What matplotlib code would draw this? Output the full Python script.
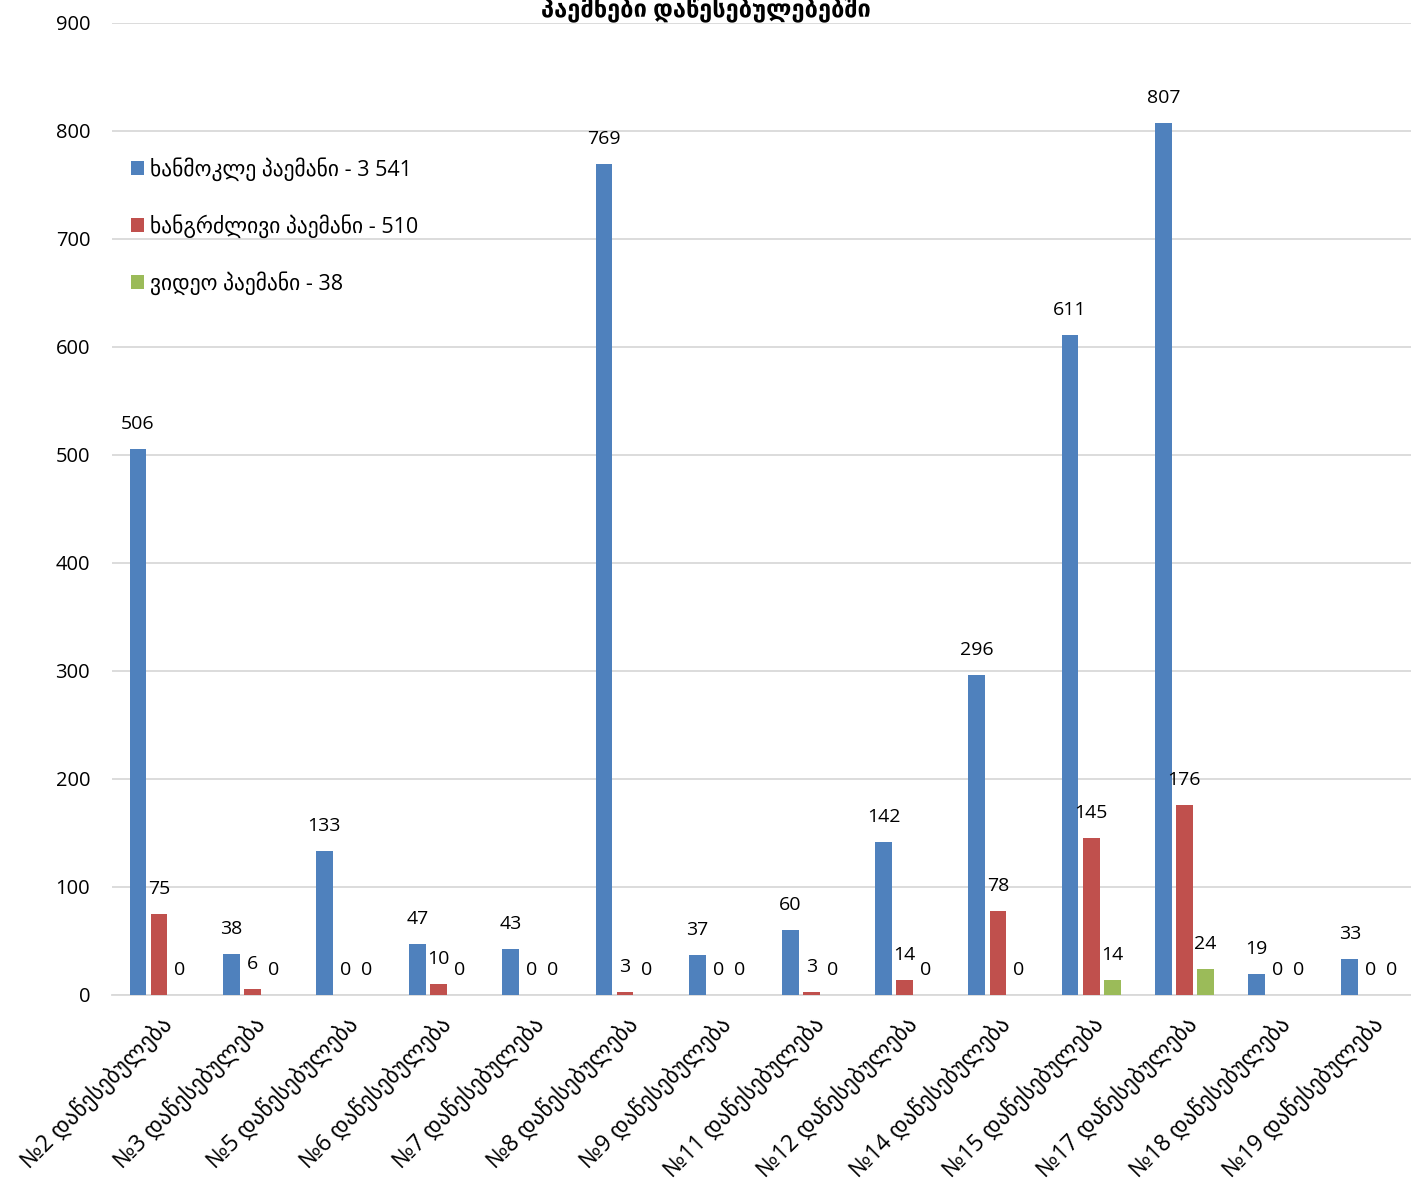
import matplotlib
matplotlib.use("Agg")
import matplotlib.pyplot as plt
import numpy as np

plt.rcParams['font.family'] = ['Open Sans', 'DejaVu Sans']

title = "პაემნები დაწესებულებებში"
categories = ["№2 დაწესებულება", "№3 დაწესებულება", "№5 დაწესებულება", "№6 დაწესებულება",
              "№7 დაწესებულება", "№8 დაწესებულება", "№9 დაწესებულება", "№11 დაწესებულება",
              "№12 დაწესებულება", "№14 დაწესებულება", "№15 დაწესებულება", "№17 დაწესებულება",
              "№18 დაწესებულება", "№19 დაწესებულება"]
short_visits = [506, 38, 133, 47, 43, 769, 37, 60, 142, 296, 611, 807, 19, 33]
long_visits = [75, 6, 0, 10, 0, 3, 0, 3, 14, 78, 145, 176, 0, 0]
video_visits = [0, 0, 0, 0, 0, 0, 0, 0, 0, 0, 14, 24, 0, 0]
series_labels = ["ხანმოკლე პაემანი - 3 541", "ხანგრძლივი პაემანი - 510", "ვიდეო პაემანი - 38"]
colors = ["#4F81BD", "#C0504D", "#9BBB59"]

fig = plt.figure(figsize=(14.11, 11.83), dpi=100)
ax = fig.add_axes([112.4/1411, 1-995/1183, 1305/1411, 972/1183])

x = np.arange(len(categories))
w = 0.18
off = 0.226
for i, (vals, lab, c) in enumerate(zip([short_visits, long_visits, video_visits], series_labels, colors)):
    bars = ax.bar(x + (i-1)*off, vals, width=w, color=c, label=lab, zorder=3)
    for b, v in zip(bars, vals):
        ax.annotate(str(v), (b.get_x()+b.get_width()/2, v), xytext=(0, 18), textcoords='offset points',
                    ha='center', va='center', fontsize=14, color='#000000')

ax.set_xlim(-0.5, len(categories)-0.5)
ax.set_ylim(0, 900)
ax.set_yticks(range(0, 901, 100))
ax.yaxis.grid(True, color='#d9d9d9', linewidth=1.3, zorder=0)
ax.set_axisbelow(True)
for s in ['top', 'right', 'left']:
    ax.spines[s].set_visible(False)
ax.spines['bottom'].set_color('#d9d9d9')
ax.spines['bottom'].set_linewidth(1.3)
ax.tick_params(axis='both', length=0, labelsize=14.5)
ax.tick_params(axis='y', pad=16)
ax.set_xticks(x)
ax.set_xticklabels(categories, rotation=45, ha='right', rotation_mode='anchor', fontsize=16.5)
ax.tick_params(axis='x', pad=12)

leg = ax.legend(loc='upper left', bbox_to_anchor=(0.014, 0.862), frameon=False, fontsize=15.5,
                handlelength=0.6, handleheight=0.6, handletextpad=0.3, labelspacing=1.55,
                borderaxespad=0, borderpad=0)

fig.text(0.5, 1-10/1183, title, ha='center', va='center', fontsize=17, fontweight='bold')

fig.savefig("out.png", dpi=100)
